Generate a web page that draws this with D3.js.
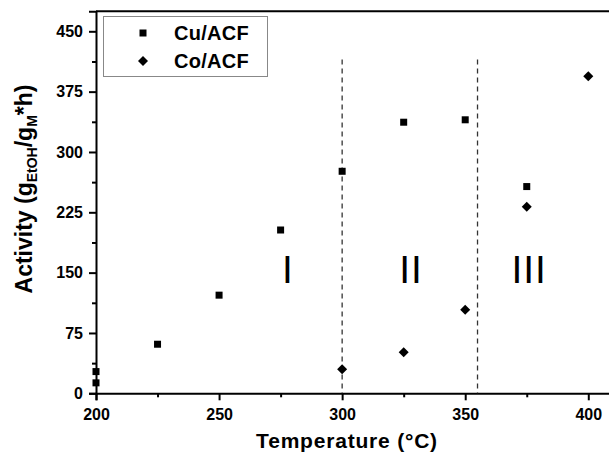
<!DOCTYPE html>
<html>
<head>
<meta charset="utf-8">
<script src="https://cdn.jsdelivr.net/npm/d3@7"></script>
<style>
  body { margin: 0; background: #fff; }
  svg { display: block; font-family: "Liberation Sans", Arial, sans-serif; }
  .tick text { font-weight: bold; font-size: 16px; fill: #000; }
</style>
</head>
<body>
<div id="chart"></div>
<script>
// Data
const cuTemp = [200, 200, 225, 250, 275, 300, 325, 350, 375];
const cuActivity = [27, 13, 61, 122, 203, 276, 337, 340, 257];
const coTemp = [300, 325, 350, 375, 400];
const coActivity = [30, 51, 104, 232, 394];
const xTicks = [200, 250, 300, 350, 400];
const yTicks = [0, 75, 150, 225, 300, 375, 450];
const regionBounds = [300, 355];
const regionLabels = ["I", "II", "III"];
const regionLabelX = [278, 328, 376];

const W = 609, H = 455;
const svg = d3.select("#chart").append("svg")
  .attr("width", W)
  .attr("height", H);

const x = d3.scaleLinear().domain([200, 410]).range([96, 612.9]);
const y = d3.scaleLinear().domain([0, 475]).range([393.3, 11.2]);

// minor ticks
const xMinor = d3.range(225, 410, 50);
const yMinor = d3.range(37.5, 475, 75);

const xAxis = svg.append("g")
  .attr("transform", `translate(0,${y(0)})`)
  .call(d3.axisBottom(x).tickValues(xTicks).tickSize(7).tickPadding(8));
xAxis.select(".domain").attr("stroke-width", 2);
xAxis.selectAll(".tick line").attr("stroke-width", 2);

svg.append("g")
  .attr("transform", `translate(0,${y(0)})`)
  .call(d3.axisBottom(x).tickValues(xMinor).tickSize(4).tickFormat(""))
  .call(g => g.select(".domain").remove())
  .selectAll(".tick line").attr("stroke-width", 2);

const yAxis = svg.append("g")
  .attr("transform", `translate(${x(200)},0)`)
  .call(d3.axisLeft(y).tickValues(yTicks).tickSize(7).tickPadding(6));
yAxis.select(".domain").attr("stroke-width", 2);
yAxis.selectAll(".tick line").attr("stroke-width", 2);

svg.append("g")
  .attr("transform", `translate(${x(200)},0)`)
  .call(d3.axisLeft(y).tickValues(yMinor).tickSize(4).tickFormat(""))
  .call(g => g.select(".domain").remove())
  .selectAll(".tick line").attr("stroke-width", 2);

// top frame line
svg.append("line")
  .attr("x1", x(200)).attr("x2", W)
  .attr("y1", y(475)).attr("y2", y(475))
  .attr("stroke", "#000").attr("stroke-width", 2);

// dashed region boundaries
svg.selectAll(".bound")
  .data(regionBounds)
  .join("line")
  .attr("class", "bound")
  .attr("x1", d => x(d)).attr("x2", d => x(d))
  .attr("y1", y(415)).attr("y2", y(0))
  .attr("stroke", "#333")
  .attr("stroke-width", 1.3)
  .attr("stroke-dasharray", "5,4");

// region labels
svg.selectAll(".region")
  .data(regionLabels)
  .join("text")
  .attr("class", "region")
  .attr("x", (d, i) => x(regionLabelX[i]))
  .attr("y", y(137))
  .attr("text-anchor", "middle")
  .attr("font-size", 39)
  .attr("letter-spacing", 1)
  .attr("fill", "#000")
  .text(d => d);

// Cu squares
svg.selectAll(".cu")
  .data(cuTemp.map((t, i) => [t, cuActivity[i]]))
  .join("rect")
  .attr("class", "cu")
  .attr("x", d => x(d[0]) - 3.5)
  .attr("y", d => y(d[1]) - 3.5)
  .attr("width", 7)
  .attr("height", 7)
  .attr("fill", "#000");

// Co diamonds
const diamond = d3.symbol().type(d3.symbolDiamond2).size(64);
svg.selectAll(".co")
  .data(coTemp.map((t, i) => [t, coActivity[i]]))
  .join("path")
  .attr("class", "co")
  .attr("d", diamond)
  .attr("transform", d => `translate(${x(d[0])},${y(d[1])})`)
  .attr("fill", "#000");

// legend
const legend = svg.append("g");
legend.append("rect")
  .attr("x", 103.5).attr("y", 16.5)
  .attr("width", 164).attr("height", 60)
  .attr("fill", "#fff")
  .attr("stroke", "#888")
  .attr("stroke-width", 1);
legend.append("rect")
  .attr("x", 139.5).attr("y", 29.5)
  .attr("width", 7).attr("height", 7)
  .attr("fill", "#000");
legend.append("path")
  .attr("d", diamond)
  .attr("transform", "translate(143,61)")
  .attr("fill", "#000");
legend.selectAll(".ltext")
  .data(["Cu/ACF", "Co/ACF"])
  .join("text")
  .attr("x", 174)
  .attr("y", (d, i) => 40 + i * 28)
  .attr("font-size", 20)
  .attr("font-weight", "bold")
  .attr("letter-spacing", 0.3)
  .text(d => d);

// axis titles
svg.append("text")
  .attr("x", 347)
  .attr("y", 448)
  .attr("text-anchor", "middle")
  .attr("font-size", 21)
  .attr("font-weight", "bold")
  .attr("letter-spacing", 0.8)
  .text("Temperature (°C)");

const yt = svg.append("text")
  .attr("transform", "translate(32,189) rotate(-90)")
  .attr("text-anchor", "middle")
  .attr("font-size", 23)
  .attr("font-weight", "bold");
yt.append("tspan").text("Activity (g");
yt.append("tspan").attr("font-size", 14).attr("dy", 5).text("EtOH");
yt.append("tspan").attr("dy", -5).text("/g");
yt.append("tspan").attr("font-size", 14).attr("dy", 5).text("M");
yt.append("tspan").attr("dy", -5).text("*h)");
</script>
</body>
</html>
